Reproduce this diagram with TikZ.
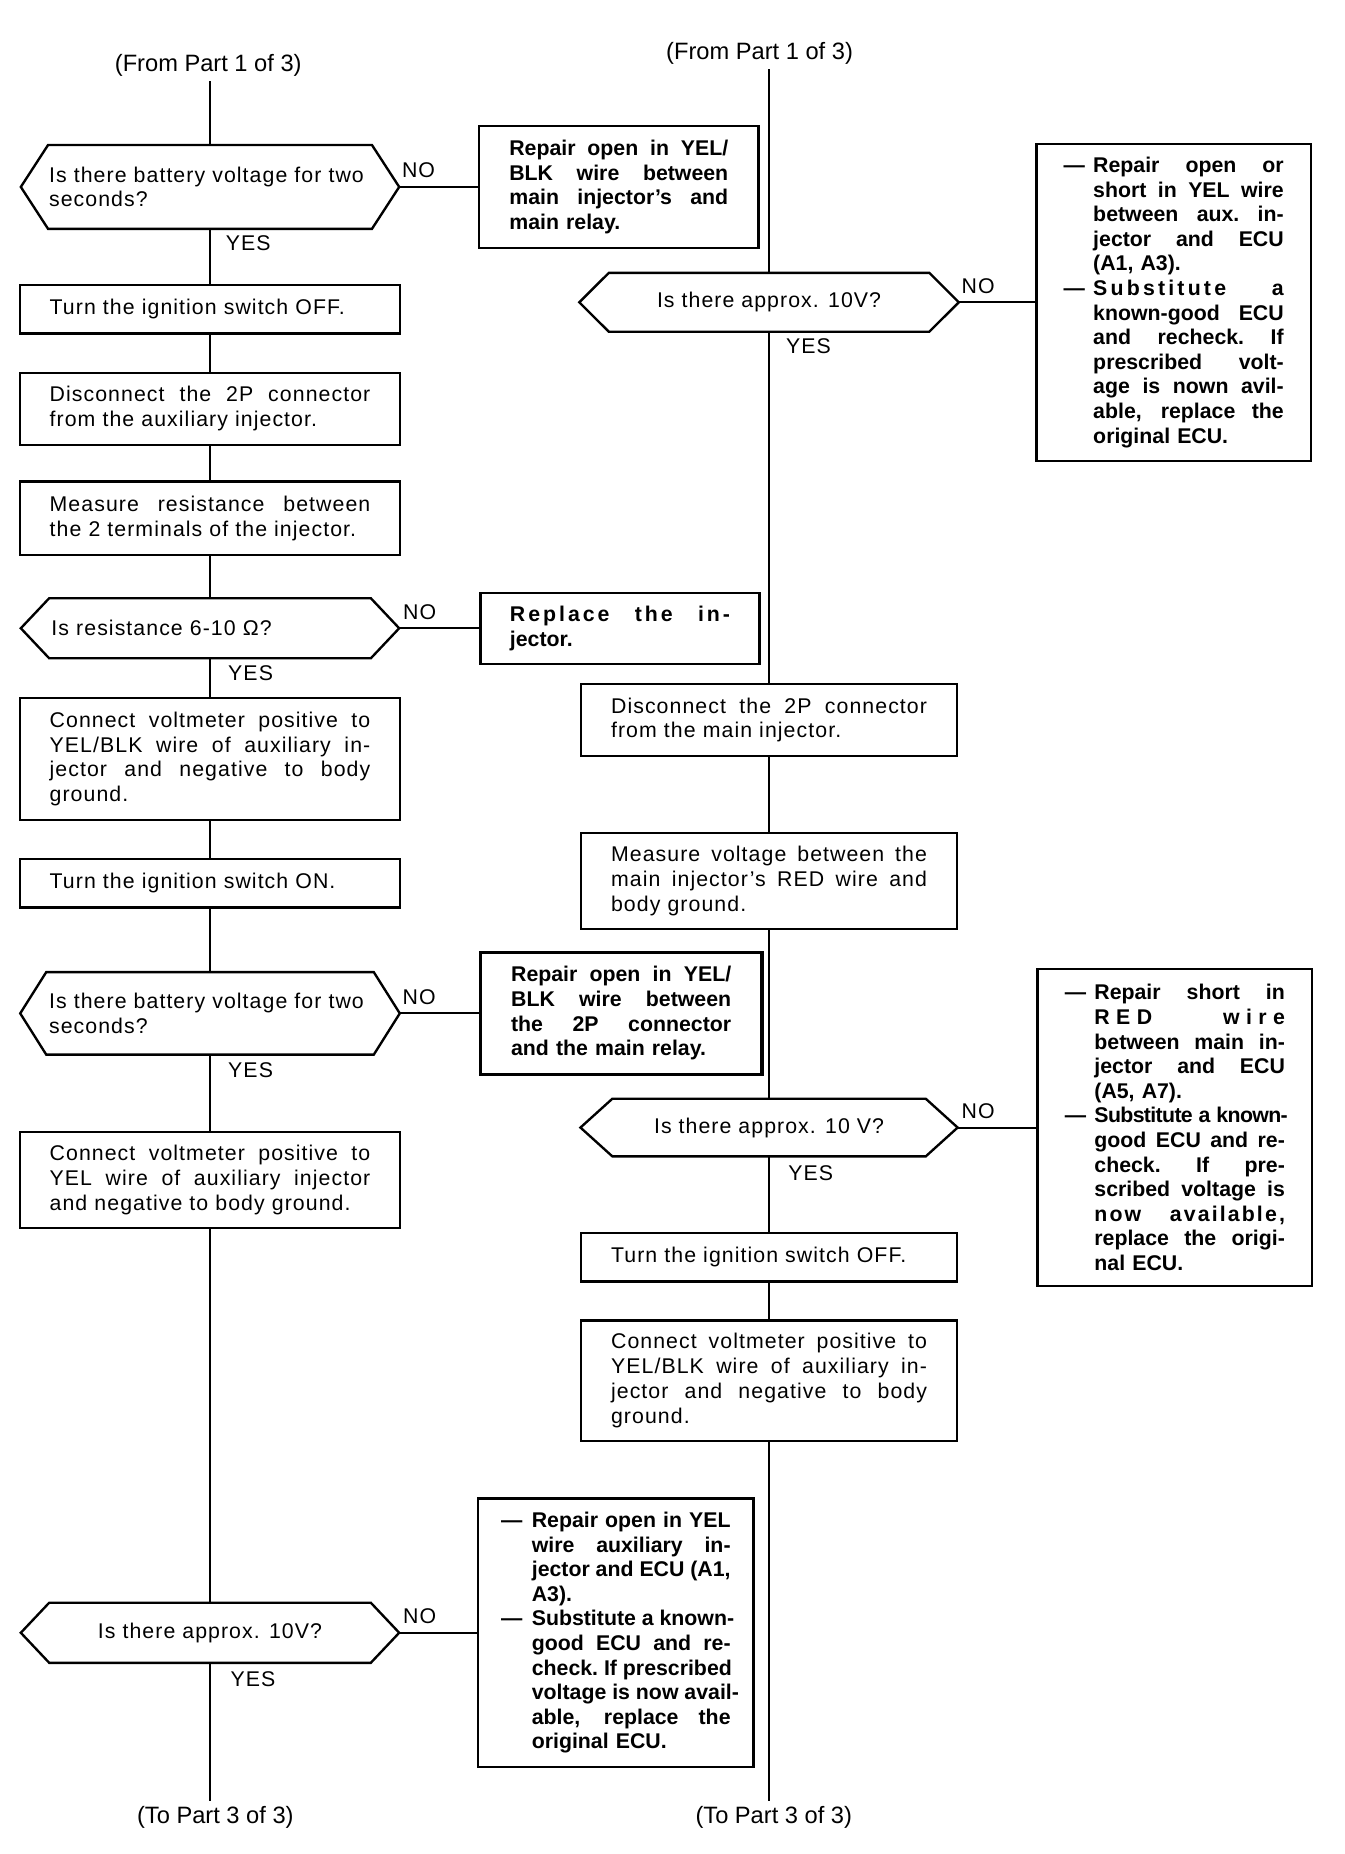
\documentclass[tikz,border=0pt]{standalone}
\usepackage{fontspec}
\usepackage{graphicx}
\setmainfont{Liberation Sans}[LetterSpace=5]
\newfontfamily\bfont{Liberation Sans}
\newfontfamily\plainfont{Liberation Sans}
\usetikzlibrary{calc}
\newlength\hangw
\newlength\restw
\newcommand\stretchsp{\spaceskip=\fontdimen2\font plus 1fil\relax\xspaceskip=\fontdimen2\font plus 1fil\relax}
\newcommand\justln[1]{\leavevmode\hbox to \linewidth{\stretchsp#1}}
\newcommand\dashln[1]{\leavevmode\hbox to \linewidth{\hbox to \hangw{—\hss}\hbox to \restw{\stretchsp#1}\hss}}
\newcommand\hangln[1]{\leavevmode\hbox to \linewidth{\hskip\hangw\hbox to \restw{\stretchsp#1}\hss}}
\newcommand\hanglast[1]{\leavevmode\hspace*{\hangw}#1}
\newcommand\hexdraw[2]{%
  \draw[line width=1pt] (#1.north west) -- (#1.north east) -- ($(#1.east)+(#2,0)$) -- (#1.south east) -- (#1.south west) -- ($(#1.west)-(#2,0)$) -- cycle;
  \coordinate (#1-r) at ($(#1.east)+(#2,0)$);}
\tikzset{
  box/.style={draw, line width=1pt, inner sep=0pt, align=left, font=\fontsize{9}{10.5}\selectfont},
  bbox/.style={draw, line width=1pt, inner sep=0pt, align=left, font=\bfont\bfseries\fontsize{9}{10.4}\selectfont},
  hexn/.style={inner sep=0pt, align=left, font=\fontsize{9}{10.5}\selectfont},
  conn/.style={line width=0.8pt},
  lbl/.style={inner sep=0pt, font=\fontsize{9}{10.5}\selectfont},
  endtxt/.style={inner sep=2pt, font=\plainfont\fontsize{10}{12}\selectfont}
}
\begin{document}
\begin{tikzpicture}[x=0.5pt,y=-0.5pt]
\useasboundingbox (0,0) rectangle (1136,1567);
\fill[white] (0,0) rectangle (1136,1567);

% end texts
\node[endtxt] (fromL) at (176,55) {(From Part 1 of 3)};
\node[endtxt] (fromR) at (642,45) {(From Part 1 of 3)};
\node[endtxt] (toL) at (182,1536) {(To Part 3 of 3)};
\node[endtxt] (toR) at (654,1536) {(To Part 3 of 3)};

% left column
\node[hexn, minimum width=136.5pt, minimum height=35pt, text width=136pt] (hexL1) at (177.5,158)
  {\makebox[\linewidth][l]{Is there battery voltage for two}\\seconds?};
\hexdraw{hexL1}{23}
\node[box, minimum width=160.5pt, minimum height=20.5pt, text width=135.5pt] (off1) at (177.5,261.5)
  {Turn the ignition switch OFF.};
\node[box, minimum width=160.5pt, minimum height=30.5pt, text width=135.5pt] (disc1) at (177.5,345.5)
  {\justln{Disconnect the 2P connector}\\from the auxiliary injector.};
\node[box, minimum width=160.5pt, minimum height=31pt, text width=135.5pt] (meas1) at (177.5,438)
  {\justln{Measure resistance between}\\the 2 terminals of the injector.};
\node[hexn, minimum width=135.5pt, minimum height=25pt, text width=134pt] (hexL2) at (177.5,531)
  {Is resistance 6-10 Ω?};
\hexdraw{hexL2}{24}
\node[box, minimum width=160.5pt, minimum height=51.5pt, text width=135.5pt] (conn1) at (177.5,641.5)
  {\justln{Connect voltmeter positive to}\\\justln{YEL/BLK wire of auxiliary in-}\\\justln{jector and negative to body}\\ground.};
\node[box, minimum width=160.5pt, minimum height=20.5pt, text width=135.5pt] (on1) at (177.5,746.5)
  {Turn the ignition switch ON.};
\node[hexn, minimum width=138pt, minimum height=34.5pt, text width=136pt] (hexL3) at (177.5,856.5)
  {\makebox[\linewidth][l]{Is there battery voltage for two}\\seconds?};
\hexdraw{hexL3}{22}
\node[box, minimum width=160.5pt, minimum height=40.5pt, text width=135.5pt] (conn2) at (177.5,997.5)
  {\justln{Connect voltmeter positive to}\\\justln{YEL wire of auxiliary injector}\\and negative to body ground.};
\node[hexn, align=center, minimum width=135.5pt, minimum height=25pt] (hexL4) at (177.5,1380)
  {Is there approx. 10V?};
\hexdraw{hexL4}{24}

% right column
\node[hexn, align=center, minimum width=135pt, minimum height=24.5pt] (hexR1) at (650,255.5)
  {Is there approx. 10V?};
\hexdraw{hexR1}{25}
\node[box, minimum width=159pt, minimum height=30.5pt, text width=133.5pt] (disc2) at (650,608.5)
  {\justln{Disconnect the 2P connector}\\from the main injector.};
\node[box, minimum width=159pt, minimum height=40.5pt, text width=133.5pt] (meas2) at (650,744.5)
  {\justln{Measure voltage between the}\\\justln{main injector’s RED wire and}\\body ground.};
\node[hexn, align=center, minimum width=132pt, minimum height=24pt] (hexR2) at (650,953)
  {Is there approx. 10 V?};
\hexdraw{hexR2}{27}
\node[box, minimum width=159pt, minimum height=20.5pt, text width=133.5pt] (off2) at (650,1062.5)
  {Turn the ignition switch OFF.};
\node[box, minimum width=159pt, minimum height=51pt, text width=133.5pt] (conn3) at (650,1167)
  {\justln{Connect voltmeter positive to}\\\justln{YEL/BLK wire of auxiliary in-}\\\justln{jector and negative to body}\\ground.};

% side boxes
\node[bbox, minimum width=118pt, minimum height=51.5pt, text width=92.5pt] (rep1) at (523,158)
  {\justln{Repair open in YEL/}\\\justln{BLK wire between}\\\justln{main injector’s and}\\main relay.};
\node[bbox, minimum width=118pt, minimum height=30pt, text width=93pt] (repl) at (524,531)
  {\justln{\addfontfeature{LetterSpace=14}Replace the in-}\\jector.};
\node[bbox, line width=1.4pt, minimum width=119pt, minimum height=51.5pt, text width=93pt] (rep2) at (525,856.5)
  {\justln{Repair open in YEL/}\\\justln{BLK wire between}\\\justln{the 2P connector}\\and the main relay.};
\node[bbox, minimum width=116.5pt, minimum height=113.5pt, text width=97pt] (rep3) at (520.5,1380)
  {\setlength\hangw{13pt}\setlength\restw{84pt}%
   \dashln{Repair open in YEL}\\
   \hangln{wire auxiliary in-}\\
   \hangln{jector and ECU (A1,}\\
   \hanglast{A3).}\\
   \dashln{Substitute a known-}\\
   \hangln{good ECU and re-}\\
   \hangln{check. If prescribed}\\
   \hangln{voltage is now avail-}\\
   \hangln{able, replace the}\\
   \hanglast{original ECU.}};
\node[bbox, minimum width=116pt, minimum height=134pt, text width=93pt] (ecuR1) at (992,255.5)
  {\setlength\hangw{12.5pt}\setlength\restw{80.5pt}%
   \dashln{Repair open or}\\
   \hangln{short in YEL wire}\\
   \hangln{between aux. in-}\\
   \hangln{jector and ECU}\\
   \hanglast{(A1, A3).}\\
   \dashln{\addfontfeature{LetterSpace=15}Substitute a}\\
   \hangln{known-good ECU}\\
   \hangln{and recheck. If}\\
   \hangln{prescribed volt-}\\
   \hangln{age is nown avil-}\\
   \hangln{able, replace the}\\
   \hanglast{original ECU.}};
\node[bbox, minimum width=116pt, minimum height=134pt, text width=93pt] (ecuR2) at (993,953)
  {\setlength\hangw{12.5pt}\setlength\restw{80.5pt}%
   \dashln{Repair short in}\\
   \hangln{\addfontfeature{LetterSpace=30}RED wire}\\
   \hangln{between main in-}\\
   \hangln{jector and ECU}\\
   \hanglast{(A5, A7).}\\
   \dashln{\addfontfeature{LetterSpace=-3}Substitute a known-}\\
   \hangln{good ECU and re-}\\
   \hangln{check. If pre-}\\
   \hangln{scribed voltage is}\\
   \hangln{\addfontfeature{LetterSpace=10}now available,}\\
   \hangln{replace the origi-}\\
   \hanglast{nal ECU.}};

% connectors left column
\draw[conn] (hexL1.north |- fromL.south) -- (hexL1.north);
\draw[conn] (hexL1.south) -- (off1.north);
\draw[conn] (off1.south) -- (disc1.north);
\draw[conn] (disc1.south) -- (meas1.north);
\draw[conn] (meas1.south) -- (hexL2.north);
\draw[conn] (hexL2.south) -- (conn1.north);
\draw[conn] (conn1.south) -- (on1.north);
\draw[conn] (on1.south) -- (hexL3.north);
\draw[conn] (hexL3.south) -- (conn2.north);
\draw[conn] (conn2.south) -- (hexL4.north);
\draw[conn] (hexL4.south) -- (hexL4.south |- toL.north);
% connectors right column
\draw[conn] (hexR1.north |- fromR.south) -- (hexR1.north);
\draw[conn] (hexR1.south) -- (disc2.north);
\draw[conn] (disc2.south) -- (meas2.north);
\draw[conn] (meas2.south) -- (hexR2.north);
\draw[conn] (hexR2.south) -- (off2.north);
\draw[conn] (off2.south) -- (conn3.north);
\draw[conn] (conn3.south) -- (conn3.south |- toR.north);
% NO branches
\draw[conn] (hexL1-r) -- (rep1.west);
\draw[conn] (hexL2-r) -- (repl.west);
\draw[conn] (hexL3-r) -- (rep2.west);
\draw[conn] (hexL4-r) -- (rep3.west);
\draw[conn] (hexR1-r) -- (ecuR1.west);
\draw[conn] (hexR2-r) -- (ecuR2.west);

% labels
\node[lbl, anchor=south west] (noL1) at ($(hexL1-r)+(2,-7)$) {NO};
\node[lbl, anchor=south west] (noL2) at ($(hexL2-r)+(3,-7)$) {NO};
\node[lbl, anchor=south west] (noL3) at ($(hexL3-r)+(2,-7)$) {NO};
\node[lbl, anchor=south west] (noL4) at ($(hexL4-r)+(3,-7)$) {NO};
\node[lbl, anchor=south west] (noR1) at ($(hexR1-r)+(2,-7)$) {NO};
\node[lbl, anchor=south west] (noR2) at ($(hexR2-r)+(3,-7)$) {NO};
\node[lbl, anchor=north west] (yesL1) at ($(hexL1.south)+(13,5)$) {YES};
\node[lbl, anchor=north west] (yesL2) at ($(hexL2.south)+(15,6)$) {YES};
\node[lbl, anchor=north west] (yesL3) at ($(hexL3.south)+(15,6)$) {YES};
\node[lbl, anchor=north west] (yesL4) at ($(hexL4.south)+(17,7)$) {YES};
\node[lbl, anchor=north west] (yesR1) at ($(hexR1.south)+(14,5)$) {YES};
\node[lbl, anchor=north west] (yesR2) at ($(hexR2.south)+(16,7)$) {YES};
\end{tikzpicture}
\end{document}
